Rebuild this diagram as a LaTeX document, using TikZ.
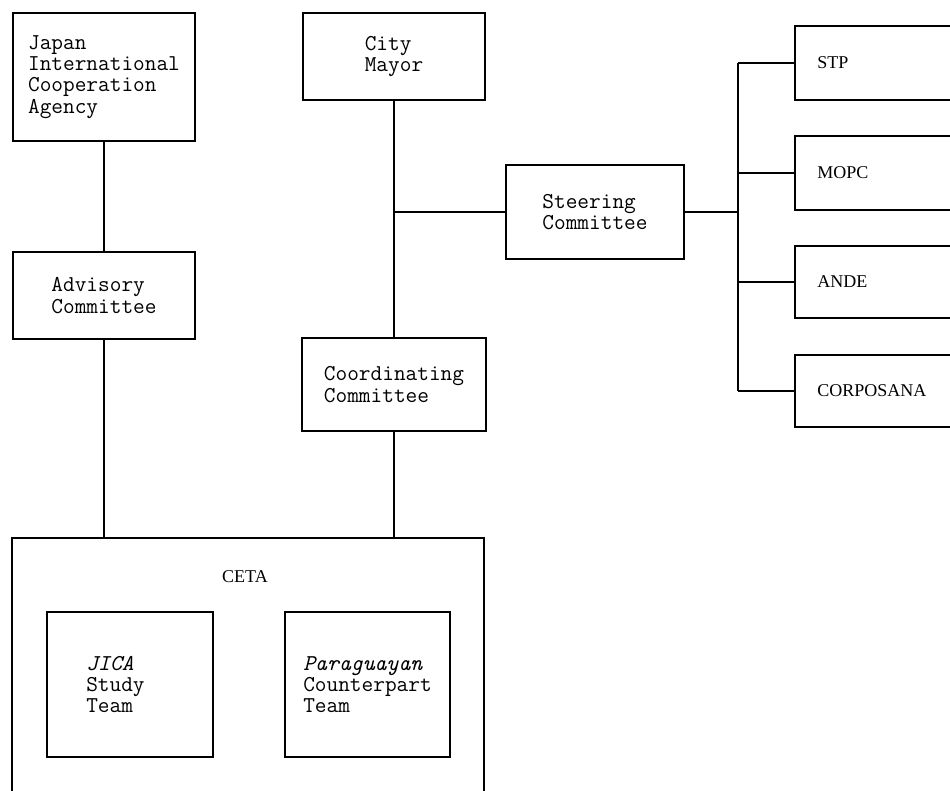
\documentclass[tikz,border=0pt]{standalone}
\usepackage{fontspec}
\newfontfamily\seriff{Liberation Serif}
\begin{document}
\begin{tikzpicture}[x=0.75pt,y=-0.75pt,
  box/.style={draw,line width=1.5pt,inner sep=0pt,align=left,
    font=\ttfamily\fontsize{17}{16}\selectfont},
  lab/.style={inner sep=0pt,align=left,font=\ttfamily\fontsize{17}{16}\selectfont},
  slab/.style={inner sep=0pt,anchor=west,font=\seriff\fontsize{13.5}{16}\selectfont},
  conn/.style={line width=1.5pt}]
\useasboundingbox (0,0) rectangle (950,791);
% left column
\node[box,minimum width=182*0.75pt,minimum height=128*0.75pt] (jica) at (104,77)
  {Japan\\International\\Cooperation\\Agency};
\node[box,minimum width=182*0.75pt,minimum height=87*0.75pt] (adv) at (104,295.5)
  {Advisory\\Committee};
% middle column
\node[box,minimum width=182*0.75pt,minimum height=87*0.75pt] (mayor) at (394,56.5)
  {City\\Mayor};
\node[box,minimum width=178*0.75pt,minimum height=94*0.75pt] (steer) at (595,212)
  {Steering\\Committee};
\node[box,minimum width=184*0.75pt,minimum height=93*0.75pt] (coord) at (394,384.5)
  {Coordinating\\Committee};
% right column
\node[box,minimum width=180*0.75pt,minimum height=74*0.75pt] (stp) at (885,63) {};
\node[box,minimum width=180*0.75pt,minimum height=74*0.75pt] (mopc) at (885,173) {};
\node[box,minimum width=180*0.75pt,minimum height=72*0.75pt] (ande) at (885,282) {};
\node[box,minimum width=180*0.75pt,minimum height=72*0.75pt] (corp) at (885,391) {};
\node[slab] (tstp) at ([xshift=17.25pt]stp.west) {STP};
\node[slab] (tmopc) at ([xshift=17.25pt]mopc.west) {MOPC};
\node[slab] (tande) at ([xshift=17.25pt]ande.west) {ANDE};
\node[slab] (tcorp) at ([xshift=17.25pt]corp.west) {CORPOSANA};
% CETA
\node[box,minimum width=472*0.75pt,minimum height=272*0.75pt] (ceta) at (248,674) {};
\node[inner sep=0pt,font=\seriff\fontsize{13.5}{16}\selectfont] (tceta) at (245,577) {CETA};
\node[box,minimum width=166*0.75pt,minimum height=145*0.75pt] (jst) at (130,684.5) {};
\node[lab,anchor=west] (tjst) at ([xshift=30pt]jst.west)
  {\itshape JICA\\Study\\Team};
\node[box,minimum width=165*0.75pt,minimum height=145*0.75pt] (pct) at (367.5,684.5)
  {{\itshape Paraguayan}\\Counterpart\\Team};
% connectors
\draw[conn] (jica.south) -- (adv.north);
\draw[conn] (adv.south) -- (adv.south |- ceta.north);
\draw[conn] (mayor.south) -- (coord.north);
\draw[conn] (coord.south) -- (coord.south |- ceta.north);
\coordinate (j) at (mayor.south |- steer.west);
\draw[conn] (j) -- (steer.west);
\coordinate (bus) at (738,212);
\draw[conn] (steer.east) -- (bus);
\draw[conn] (stp.west -| bus) -- (corp.west -| bus);
\draw[conn] (stp.west -| bus) -- (stp.west);
\draw[conn] (mopc.west -| bus) -- (mopc.west);
\draw[conn] (ande.west -| bus) -- (ande.west);
\draw[conn] (corp.west -| bus) -- (corp.west);
\end{tikzpicture}
\end{document}
